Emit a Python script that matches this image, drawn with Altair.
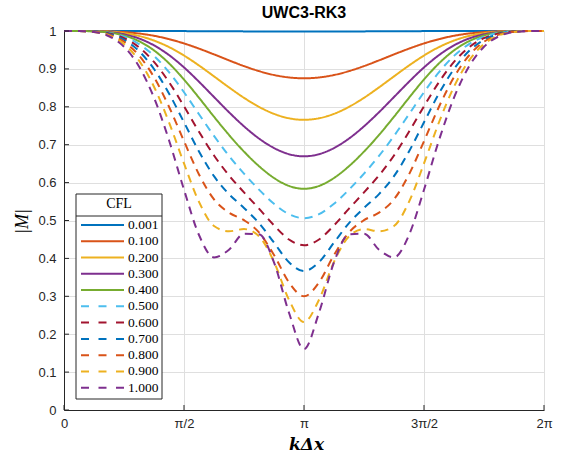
import altair as alt
import pandas as pd

W, H = 480, 379

# k*dx in units of pi (0 .. 2*pi)
theta_over_pi = [i / 16 for i in range(33)]

cfl_labels = ["0.001", "0.100", "0.200", "0.300", "0.400", "0.500",
              "0.600", "0.700", "0.800", "0.900", "1.000"]

m_0001 = [1, 1, 1, 1, 1, 0.9999, 0.9999, 0.9998, 0.9997, 0.9995, 0.9994, 0.9992, 0.999, 0.9989, 0.9988, 0.9987, 0.9987,
          0.9987, 0.9988, 0.9989, 0.999, 0.9992, 0.9994, 0.9995, 0.9997, 0.9998, 0.9999, 0.9999, 1, 1, 1, 1, 1]
m_0100 = [1, 1, 0.9998, 0.9991, 0.9971, 0.9934, 0.9874, 0.9786, 0.9672, 0.9535, 0.9383, 0.9225, 0.9074, 0.8942, 0.8839, 0.8774, 0.8752,
          0.8774, 0.8839, 0.8942, 0.9074, 0.9225, 0.9383, 0.9535, 0.9672, 0.9786, 0.9874, 0.9934, 0.9971, 0.9991, 0.9998, 1, 1]
m_0200 = [1, 1, 0.9996, 0.9981, 0.9943, 0.9869, 0.9748, 0.9576, 0.9353, 0.909, 0.8803, 0.8512, 0.8237, 0.7999, 0.7814, 0.7697, 0.7657,
          0.7697, 0.7814, 0.7999, 0.8237, 0.8512, 0.8803, 0.909, 0.9353, 0.9576, 0.9748, 0.9869, 0.9943, 0.9981, 0.9996, 1, 1]
m_0300 = [1, 1, 0.9994, 0.9971, 0.9913, 0.9802, 0.9621, 0.9365, 0.9039, 0.8661, 0.8258, 0.7857, 0.7485, 0.7163, 0.6912, 0.675, 0.6693,
          0.675, 0.6912, 0.7163, 0.7485, 0.7857, 0.8258, 0.8661, 0.9039, 0.9365, 0.9621, 0.9802, 0.9913, 0.9971, 0.9994, 1, 1]
m_0400 = [1, 0.9999, 0.9992, 0.9961, 0.9882, 0.9731, 0.9488, 0.9147, 0.872, 0.8238, 0.7738, 0.7257, 0.6818, 0.6434, 0.6122, 0.5912, 0.5836,
          0.5912, 0.6122, 0.6434, 0.6818, 0.7257, 0.7738, 0.8238, 0.872, 0.9147, 0.9488, 0.9731, 0.9882, 0.9961, 0.9992, 0.9999, 1]
m_0500 = [1, 0.9999, 0.999, 0.995, 0.9849, 0.9655, 0.9344, 0.8913, 0.8384, 0.7804, 0.7231, 0.6705, 0.6237, 0.5815, 0.5442, 0.5166, 0.5062,
          0.5166, 0.5442, 0.5815, 0.6237, 0.6705, 0.7231, 0.7804, 0.8384, 0.8913, 0.9344, 0.9655, 0.9849, 0.995, 0.999, 0.9999, 1]
m_0600 = [1, 0.9999, 0.9987, 0.9937, 0.9811, 0.9569, 0.9183, 0.8652, 0.8014, 0.7341, 0.6716, 0.619, 0.5742, 0.5312, 0.4872, 0.4499, 0.4347,
          0.4499, 0.4872, 0.5312, 0.5742, 0.619, 0.6716, 0.7341, 0.8014, 0.8652, 0.9183, 0.9569, 0.9811, 0.9937, 0.9987, 0.9999, 1]
m_0700 = [1, 0.9999, 0.9984, 0.9923, 0.9767, 0.947, 0.8997, 0.8353, 0.7591, 0.6821, 0.6169, 0.5696, 0.5332, 0.4932, 0.4417, 0.39, 0.3667,
          0.39, 0.4417, 0.4932, 0.5332, 0.5696, 0.6169, 0.6821, 0.7591, 0.8353, 0.8997, 0.947, 0.9767, 0.9923, 0.9984, 0.9999, 1]
m_0800 = [1, 0.9999, 0.9981, 0.9905, 0.9716, 0.9354, 0.8781, 0.8002, 0.7094, 0.6215, 0.5558, 0.5207, 0.5008, 0.4685, 0.4091, 0.3366, 0.3,
          0.3366, 0.4091, 0.4685, 0.5008, 0.5207, 0.5558, 0.6215, 0.7094, 0.8002, 0.8781, 0.9354, 0.9716, 0.9905, 0.9981, 0.9999, 1]
m_0900 = [1, 0.9999, 0.9976, 0.9885, 0.9656, 0.922, 0.853, 0.7592, 0.6505, 0.5491, 0.4854, 0.4715, 0.4774, 0.4582, 0.391, 0.2908, 0.232,
          0.2908, 0.391, 0.4582, 0.4774, 0.4715, 0.4854, 0.5491, 0.6505, 0.7592, 0.853, 0.922, 0.9656, 0.9885, 0.9976, 0.9999, 1]
m_1000 = [1, 0.9998, 0.9971, 0.9861, 0.9585, 0.9064, 0.824, 0.7119, 0.5812, 0.4617, 0.4027, 0.4229, 0.465, 0.4636, 0.3897, 0.2566, 0.1605,
          0.2566, 0.3897, 0.4636, 0.465, 0.4229, 0.4027, 0.4617, 0.5812, 0.7119, 0.824, 0.9064, 0.9585, 0.9861, 0.9971, 0.9998, 1]

series = [m_0001, m_0100, m_0200, m_0300, m_0400, m_0500,
          m_0600, m_0700, m_0800, m_0900, m_1000]

colors = ["#0072BD", "#D95319", "#EDB120", "#7E2F8E", "#77AC30", "#4DBEEE",
          "#A2142F", "#0072BD", "#D95319", "#EDB120", "#7E2F8E"]
line_dash = [[1, 0]] * 5 + [[8, 6]] * 6
legend_dash = [[1, 0]] * 5 + [[8, 9.5]] * 6

x_ticks = [0, 0.5, 1, 1.5, 2]
y_ticks = [0, 0.1, 0.2, 0.3, 0.4, 0.5, 0.6, 0.7, 0.8, 0.9, 1.0]

rows = []
for lab, vals in zip(cfl_labels, series):
    assert len(vals) == len(theta_over_pi)
    for t, v in zip(theta_over_pi, vals):
        rows.append({"theta": t, "M": v, "CFL": lab})
df = pd.DataFrame(rows)

AX = "#262626"
x_scale = alt.Scale(domain=[0, 2], nice=False, zero=False)
y_scale = alt.Scale(domain=[0, 1], nice=False)
color_scale = alt.Scale(domain=cfl_labels, range=colors)

x_axis = alt.Axis(
    values=x_ticks,
    labelExpr="datum.value == 0 ? '0' : datum.value == 0.5 ? 'π/2' : datum.value == 1 ? 'π' : datum.value == 1.5 ? '3π/2' : '2π'",
    title="kΔx", titleFont="DejaVu Serif", titleFontStyle="italic", titleFontWeight="bold",
    titleFontSize=17, titleX=242, titleY=39, titleBaseline="alphabetic", titleAlign="center",
    labelPadding=7, labelFlush=False, grid=True, ticks=False, tickSize=0)
x_enc = alt.X("theta:Q", scale=x_scale, axis=x_axis)

lines = alt.Chart(df).mark_line(strokeWidth=2, interpolate="monotone").encode(
    x=x_enc,
    y=alt.Y("M:Q", scale=y_scale, axis=alt.Axis(
        values=y_ticks, format="~g",
        title="|M|", titleFont="Liberation Serif", titleFontStyle="italic", titleFontWeight="normal",
        titleFontSize=18, titleAngle=270, titleX=-42, titleY=190, titleBaseline="middle",
        titleAlign="center", labelPadding=8, grid=True, ticks=False, tickSize=0)),
    color=alt.Color("CFL:N", scale=color_scale, legend=None),
    strokeDash=alt.StrokeDash("CFL:N", scale=alt.Scale(domain=cfl_labels, range=line_dash), legend=None),
)

# inward tick marks (MATLAB style)
xt = alt.Chart(pd.DataFrame({"theta": x_ticks})).mark_rule(color=AX, strokeWidth=1).encode(
    x=x_enc, y=alt.value(H), y2=alt.value(H - 5))

yt = alt.Chart(pd.DataFrame({"v": y_ticks})).mark_rule(color=AX, strokeWidth=1).encode(
    y=alt.Y("v:Q", scale=y_scale, axis=None),
    x=alt.value(0), x2=alt.value(5))

one = pd.DataFrame({"a": [0]})
title_mark = alt.Chart(pd.DataFrame({"t": ["UWC3-RK3"]})).mark_text(
    font="Liberation Sans", fontSize=16, fontWeight="bold", color="black",
    baseline="alphabetic", align="center").encode(
    x=alt.value(W / 2), y=alt.value(-13.5), text="t:N")

leg_box = alt.Chart(one).mark_rect(fill="white", stroke=AX, strokeWidth=1).encode(
    x=alt.value(12), x2=alt.value(98), y=alt.value(163), y2=alt.value(368))
leg_sep = alt.Chart(one).mark_rule(color=AX, strokeWidth=1).encode(
    x=alt.value(12), x2=alt.value(98), y=alt.value(185))
leg_title = alt.Chart(pd.DataFrame({"t": ["CFL"]})).mark_text(
    font="Liberation Serif", fontSize=14, color="black", baseline="middle", align="center").encode(
    x=alt.value(55), y=alt.value(173), text="t:N")

leg_df = pd.DataFrame({"CFL": cfl_labels, "row": list(range(len(cfl_labels)))})
leg_y = alt.Y("row:Q", scale=alt.Scale(domain=[0, 10], range=[194, 356.7]), axis=None)
leg_lines = alt.Chart(leg_df).mark_rule(strokeWidth=2).encode(
    x=alt.value(17), x2=alt.value(60), y=leg_y,
    color=alt.Color("CFL:N", scale=color_scale, legend=None),
    strokeDash=alt.StrokeDash("CFL:N", scale=alt.Scale(domain=cfl_labels, range=legend_dash), legend=None))
leg_text = alt.Chart(leg_df).mark_text(
    font="Liberation Serif", fontSize=13.5, color="black", align="left", baseline="middle").encode(
    x=alt.value(64), y=leg_y, text="CFL:N")

chart = alt.layer(
    lines, xt, yt, title_mark, leg_box, leg_sep, leg_title, leg_lines, leg_text
).resolve_scale(
    y="independent", strokeDash="independent"
).properties(
    width=W, height=H,
    autosize=alt.AutoSizeParams(type="none"),
    padding={"left": 64, "top": 31, "right": 17, "bottom": 48},
).configure_view(stroke=None).configure_axis(
    domainColor=AX, domainWidth=1, gridColor="#dfdfdf", gridWidth=1,
    labelFont="Liberation Sans", labelFontSize=13,
    labelColor=AX, titleColor="black",
)

chart.save("out.html", embed_options={"renderer": "svg", "actions": False})
